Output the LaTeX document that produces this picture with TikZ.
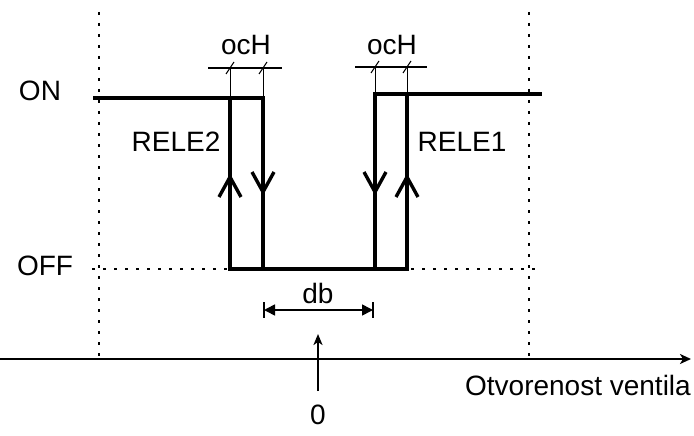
\documentclass[tikz,border=0pt]{standalone}
\usepackage{fontspec}
\setmainfont{Liberation Sans}
\usetikzlibrary{arrows.meta}
\begin{document}
\begin{tikzpicture}[x=1pt,y=-1pt,
  lbl/.style={font=\fontsize{28}{32}\selectfont, inner sep=0pt},
  thickline/.style={line width=3.4pt, line cap=rect},
  thinline/.style={line width=1pt},
  dotline/.style={line width=2.8pt, dash pattern=on 2.8pt off 8.2pt},
  barb/.style={line width=3.4pt, line join=miter},
  tick/.style={line width=1pt}]
\useasboundingbox (0,0) rectangle (694,436);
% coordinates
\coordinate (dl1) at (99,12);  \coordinate (dl2) at (99,358);
\coordinate (dr1) at (529,12); \coordinate (dr2) at (529,358);
\coordinate (off1) at (92,269); \coordinate (off2) at (542,269);
\coordinate (a) at (230,98);  \coordinate (b) at (263,98);
\coordinate (c) at (375,94);  \coordinate (d) at (407,94);
\coordinate (ab) at (230,269); \coordinate (bb) at (263,269);
\coordinate (cb) at (375,269); \coordinate (db) at (407,269);
\coordinate (onL) at (95,98); \coordinate (onR) at (540,94);
% dotted guides
\draw[dotline] (dl1) -- (dl2);
\draw[dotline] (dr1) -- (dr2);
\draw[dotline] (off1) -- (off2);
% hysteresis
\draw[thickline] (onL) -- (b) -- (bb);
\draw[thickline] (ab) -- (a);
\draw[thickline] (onR) -- (c) -- (cb);
\draw[thickline] (db) -- (d);
\draw[thickline] (ab) -- (db);
% direction barbs
\draw[barb] (219,197) -- (230,177) -- (241,197);
\draw[barb] (252,172) -- (263,192) -- (274,172);
\draw[barb] (364,172) -- (375,192) -- (386,172);
\draw[barb] (396,197) -- (407,177) -- (418,197);
% ocH bars
\coordinate (h1) at (208,68); \coordinate (h2) at (282,68);
\coordinate (h3) at (355,67); \coordinate (h4) at (427,67);
\draw[line width=2.8pt] (h1) -- (h2);
\draw[line width=2.8pt] (h3) -- (h4);
\draw[thinline] (230,68) -- (a);
\draw[thinline] (263,68) -- (b);
\draw[thinline] (375,67) -- (c);
\draw[thinline] (407,67) -- (d);
\draw[tick] (226,74) -- (234,62);
\draw[tick] (259,74) -- (267,62);
\draw[tick] (371,73) -- (379,61);
\draw[tick] (403,73) -- (411,61);
% db dimension
\coordinate (dbL) at (264,310); \coordinate (dbR) at (373,310);
\draw[line width=1.6pt, {Triangle[length=11pt,width=11pt]}-{Triangle[length=11pt,width=11pt]}] (dbL) -- (dbR);
\draw[line width=1.8pt] (264,302) -- (264,318);
\draw[line width=1.8pt] (373,302) -- (373,318);
% axis
\coordinate (x0) at (0,359); \coordinate (x1) at (691,359);
\draw[line width=2pt, -{Stealth[length=11pt,width=10pt,inset=3pt]}] (x0) -- (x1);
\coordinate (z0) at (318,391); \coordinate (z1) at (318,334);
\draw[line width=2pt, -{Stealth[length=11pt,width=9pt,inset=3pt]}] (z0) -- (z1);
% labels
\node[lbl] (ocH1) at (246,45) {ocH};
\node[lbl] (ocH2) at (392,45) {ocH};
\node[lbl] (on) at (40,91) {ON};
\node[lbl] (off) at (45,266) {OFF};
\node[lbl] (r2) at (176,142) {RELE2};
\node[lbl] (r1) at (462,142) {RELE1};
\node[lbl] (dbl) at (318,293) {db};
\node[lbl] (zero) at (318,415) {0};
\node[lbl, anchor=east] (ov) at (691,385) {Otvorenost ventila};
\end{tikzpicture}
\end{document}
